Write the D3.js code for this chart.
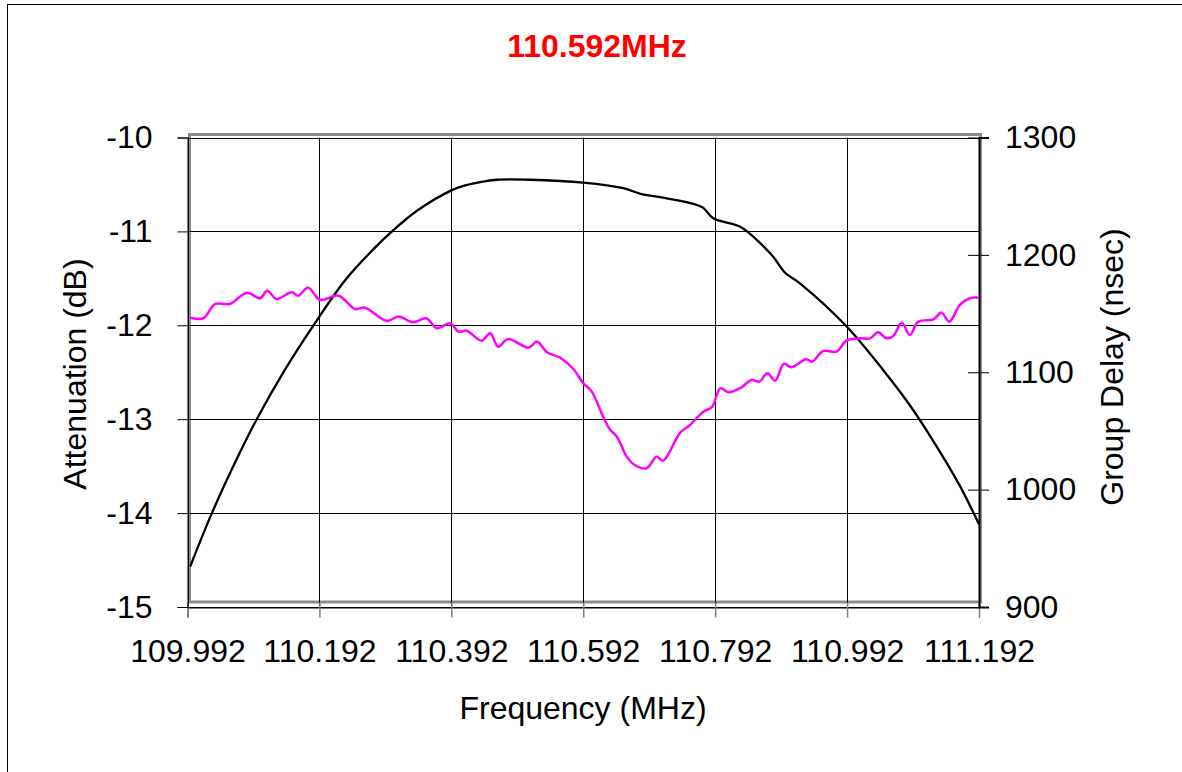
<!DOCTYPE html>
<html>
<head>
<meta charset="utf-8">
<script src="https://cdn.jsdelivr.net/npm/d3@7"></script>
<style>
  body { margin: 0; background: #fff; }
  svg { display: block; font-family: "Liberation Sans", Arial, sans-serif; }
</style>
</head>
<body>
<svg id="chart" width="1182" height="772"></svg>
<script>
// frequency ticks (MHz)
const freqTicks = [109.992, 110.192, 110.392, 110.592, 110.792, 110.992, 111.192];
const attTicks = [-15, -14, -13, -12, -11, -10];
const delayTicks = [900, 1000, 1100, 1200, 1300];

// attenuation curve
const attFreq = [109.996, 110.029, 110.069, 110.097, 110.140, 110.183, 110.231, 110.271, 110.302,
  110.342, 110.393, 110.413, 110.440, 110.461, 110.511, 110.592, 110.653, 110.679, 110.713,
  110.772, 110.789, 110.830, 110.855, 110.880, 110.898, 110.920, 110.991, 111.046, 111.085,
  111.118, 111.163, 111.192];
const attDb = [-14.57, -14.0, -13.39, -13.0, -12.47, -12.0, -11.52, -11.21, -11.0,
  -10.77, -10.56, -10.51, -10.47, -10.45, -10.45, -10.48, -10.54, -10.60, -10.64,
  -10.74, -10.86, -10.95, -11.09, -11.27, -11.44, -11.55, -12.01, -12.47, -12.83,
  -13.18, -13.71, -14.12];

// group delay curve (nsec)
const gdFreq = [109.996, 110.016, 110.034, 110.056, 110.082, 110.102, 110.113, 110.127, 110.150,
  110.160, 110.175, 110.193, 110.221, 110.246, 110.261, 110.294, 110.312, 110.334, 110.354,
  110.370, 110.390, 110.403, 110.415, 110.438, 110.451, 110.463, 110.478, 110.509, 110.522,
  110.537, 110.557, 110.577, 110.592, 110.605, 110.622, 110.633, 110.643, 110.658, 110.670,
  110.688, 110.703, 110.713, 110.739, 110.754, 110.774, 110.787, 110.800, 110.812, 110.830,
  110.847, 110.859, 110.871, 110.883, 110.896, 110.908, 110.930, 110.939, 110.956, 110.976,
  110.991, 111.012, 111.027, 111.039, 111.052, 111.062, 111.075, 111.087, 111.100, 111.123,
  111.135, 111.147, 111.163, 111.178, 111.192];
const gdNs = [1146.5, 1146.0, 1158.2, 1158.2, 1167.8, 1163.0, 1169.5, 1162.4, 1168.1,
  1165.2, 1172.1, 1161.6, 1165.2, 1153.9, 1155.0, 1143.7, 1147.4, 1142.6, 1146.0,
  1137.5, 1141.7, 1134.6, 1135.4, 1126.9, 1133.2, 1121.8, 1128.4, 1121.0, 1126.1,
  1117.0, 1112.4, 1102.8, 1090.6, 1083.5, 1062.2, 1050.9, 1045.1, 1028.1, 1021.0,
  1018.2, 1028.1, 1024.7, 1048.6, 1055.1, 1066.4, 1070.2, 1086.4, 1083.0, 1086.4,
  1093.4, 1092.0, 1099.1, 1092.8, 1107.1, 1104.3, 1111.1, 1109.0, 1118.1, 1117.6,
  1126.9, 1128.9, 1128.9, 1134.1, 1128.9, 1130.9, 1142.2, 1131.7, 1143.1, 1145.1,
  1150.8, 1143.1, 1157.3, 1163.0, 1163.5];

const svg = d3.select("#chart");
const L = 187.5, R = 979, T = 137.5, B = 607;
const FS = 32;
const FONT = "Liberation Sans, Arial, sans-serif";

const x = d3.scaleLinear().domain([109.992, 111.192]).range([L, R]);
const yL = d3.scaleLinear().domain([-15, -10]).range([B, T]);
const yR = d3.scaleLinear().domain([900, 1300]).range([B, T]);

// outer border
svg.append("rect")
    .attr("x", 7.5).attr("y", 4.5)
    .attr("width", 1200).attr("height", 800)
    .attr("fill", "none").attr("stroke", "#000").attr("stroke-width", 1);

// title
svg.append("text")
    .attr("x", 597).attr("y", 57)
    .attr("text-anchor", "middle")
    .attr("font-size", FS).attr("font-weight", "bold")
    .attr("fill", "#ff0000")
    .text("110.592MHz");

// plot area frame (gray, offset like the original)
svg.append("rect")
    .attr("x", 189.5).attr("y", 134.5)
    .attr("width", 791).attr("height", 467.5)
    .attr("fill", "none").attr("stroke", "#8c8c8c").attr("stroke-width", 3);

// grid
const grid = svg.append("g").attr("stroke", "#000").attr("stroke-width", 1);
grid.selectAll("line.h")
    .data(attTicks)
  .enter().append("line")
    .attr("class", "h")
    .attr("x1", L).attr("x2", R)
    .attr("y1", d => Math.round(yL(d)) + 0.5)
    .attr("y2", d => Math.round(yL(d)) + 0.5);
grid.selectAll("line.v")
    .data(freqTicks)
  .enter().append("line")
    .attr("class", "v")
    .attr("x1", d => Math.round(x(d)) + 0.5)
    .attr("x2", d => Math.round(x(d)) + 0.5)
    .attr("y1", T).attr("y2", B);

// bottom axis
const gx = svg.append("g")
    .attr("transform", `translate(0,${Math.round(B) + 0.5})`)
    .call(d3.axisBottom(x).tickValues(freqTicks).tickSize(10).tickPadding(22)
      .tickFormat(d => d.toFixed(3)));
gx.select(".domain").attr("stroke", "#000");
gx.selectAll(".tick line").attr("stroke", "#808080").attr("y1", -5).attr("stroke-width", 1.5);
gx.selectAll(".tick text").attr("font-size", FS).attr("fill", "#000").attr("font-family", FONT);

// left axis
const gl = svg.append("g")
    .attr("transform", `translate(${L},0)`)
    .call(d3.axisLeft(yL).tickValues(attTicks).tickSize(10).tickPadding(25)
      .tickFormat(d => String(d)));
gl.select(".domain").attr("stroke", "#000");
gl.selectAll(".tick line").attr("stroke", "#000");
gl.selectAll(".tick text").attr("font-size", FS).attr("fill", "#000").attr("font-family", FONT);

// right axis
const gr = svg.append("g")
    .attr("transform", `translate(${R},0)`)
    .call(d3.axisRight(yR).tickValues(delayTicks).tickSize(10).tickPadding(16)
      .tickFormat(d => String(d)));
gr.select(".domain").attr("stroke", "#000").attr("stroke-width", 2);
gr.selectAll(".tick line").attr("stroke", "#000").attr("x1", -11);
gr.selectAll(".tick text").attr("font-size", FS).attr("fill", "#000").attr("font-family", FONT);

// axis titles
svg.append("text")
    .attr("x", 583).attr("y", 719)
    .attr("text-anchor", "middle")
    .attr("font-size", FS)
    .text("Frequency (MHz)");
svg.append("text")
    .attr("transform", "translate(86,374) rotate(-90)")
    .attr("text-anchor", "middle")
    .attr("font-size", FS)
    .text("Attenuation (dB)");
svg.append("text")
    .attr("transform", "translate(1123,367) rotate(-90)")
    .attr("text-anchor", "middle")
    .attr("font-size", FS)
    .text("Group Delay (nsec)");

// series
const attLine = d3.line()
    .x((d, i) => x(attFreq[i]))
    .y(d => yL(d))
    .curve(d3.curveCatmullRom);
svg.append("path")
    .attr("d", attLine(attDb))
    .attr("fill", "none").attr("stroke", "#000").attr("stroke-width", 2.3);

const gdLine = d3.line()
    .x((d, i) => x(gdFreq[i]))
    .y(d => yR(d))
    .curve(d3.curveCatmullRom);
svg.append("path")
    .attr("d", gdLine(gdNs))
    .attr("fill", "none").attr("stroke", "#ff00ff").attr("stroke-width", 2.5);
</script>
</body>
</html>
